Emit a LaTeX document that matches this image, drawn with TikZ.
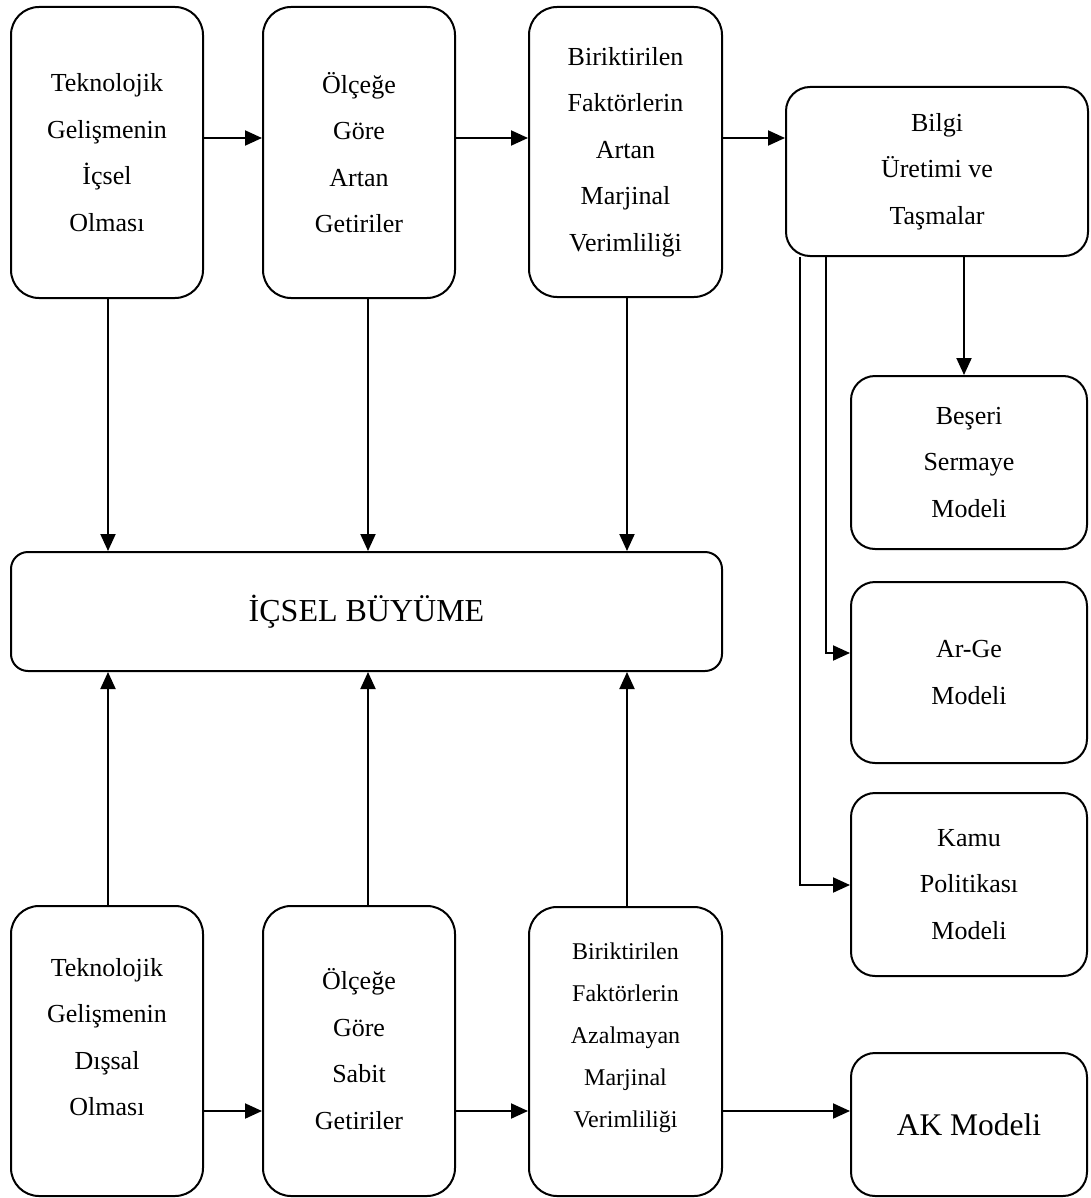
\documentclass[tikz,border=0pt]{standalone}
\usepackage{fontspec}
\setmainfont{Liberation Serif}
\usetikzlibrary{arrows.meta}
\begin{document}
\begin{tikzpicture}[x=1pt,y=-1pt,
  box/.style={draw, line width=2pt, rounded corners=28pt, inner sep=0pt, align=center},
  lbl/.style={align=center, font=\fontsize{26}{46.5}\selectfont},
  small/.style={align=center, font=\fontsize{24}{42}\selectfont},
  arr/.style={line width=2pt, -{Triangle[length=17pt,width=15pt]}}]

% page
\fill[white] (0,0) rectangle (1090,1198);

% top row: endogenous technology
\node[box, lbl, minimum width=192pt, minimum height=291pt] (a1) at (107,152.5)
  {Teknolojik\\Gelişmenin\\İçsel\\Olması};
\node[box, lbl, minimum width=192pt, minimum height=291pt] (a2) at (359,152.5)
  {Ölçeğe\\Göre\\Artan\\Getiriler};
\node[box, lbl, minimum width=193pt, minimum height=290pt] (a3) at (625.5,152)
  {Biriktirilen\\Faktörlerin\\Artan\\Marjinal\\Verimliliği};
\node[box, lbl, rounded corners=24pt, minimum width=302pt, minimum height=169pt] (bilgi) at (937,171.5)
  {Bilgi\\Üretimi ve\\Taşmalar};

% central box
\node[box, rounded corners=17pt, minimum width=711pt, minimum height=119pt,
  font=\fontsize{32}{38}\selectfont] (g) at (366.5,611.5) {İÇSEL BÜYÜME};

% right column: models
\node[box, lbl, rounded corners=24pt, minimum width=236pt, minimum height=173pt] (beseri) at (969,462.5)
  {Beşeri\\Sermaye\\Modeli};
\node[box, lbl, rounded corners=24pt, minimum width=236pt, minimum height=181pt] (arge) at (969,672.5)
  {Ar-Ge\\Modeli};
\node[box, lbl, rounded corners=24pt, minimum width=236pt, minimum height=183pt] (kamu) at (969,884.5)
  {Kamu\\Politikası\\Modeli};
\node[box, rounded corners=24pt, minimum width=236pt, minimum height=143pt,
  font=\fontsize{31.5}{38}\selectfont] (ak) at (969,1124.5) {AK Modeli};

% bottom row: exogenous technology
\node[box, minimum width=192pt, minimum height=290pt] (b1) at (107,1051) {};
\node[lbl] (b1t) at (107,1037) {Teknolojik\\Gelişmenin\\Dışsal\\Olması};
\node[box, minimum width=192pt, minimum height=290pt] (b2) at (359,1051) {};
\node[lbl] (b2t) at (359,1049) {Ölçeğe\\Göre\\Sabit\\Getiriler};
\node[box, minimum width=193pt, minimum height=289pt] (b3) at (625.5,1051.5) {};
\node[small] (b3t) at (625.5,1038) {Biriktirilen\\Faktörlerin\\Azalmayan\\Marjinal\\Verimliliği};

% guide coordinates for connector lines
\coordinate (rowA) at (0,138);
\coordinate (rowB) at (0,1111);
\coordinate (c1) at (108,0);
\coordinate (c2) at (368,0);
\coordinate (c3) at (627,0);
\coordinate (xb) at (964,0);
\coordinate (xr) at (826,0);
\coordinate (xk) at (800,0);
\coordinate (ya) at (0,653);
\coordinate (yk) at (0,885);

% top row chain
\draw[arr] (a1.east |- rowA) -- (a2.west |- rowA);
\draw[arr] (a2.east |- rowA) -- (a3.west |- rowA);
\draw[arr] (a3.east |- rowA) -- (bilgi.west |- rowA);

% into the central box
\draw[arr] (a1.south -| c1) -- (g.north -| c1);
\draw[arr] (a2.south -| c2) -- (g.north -| c2);
\draw[arr] (a3.south -| c3) -- (g.north -| c3);
\draw[arr] (b1.north -| c1) -- (g.south -| c1);
\draw[arr] (b2.north -| c2) -- (g.south -| c2);
\draw[arr] (b3.north -| c3) -- (g.south -| c3);

% bottom row chain
\draw[arr] (b1.east |- rowB) -- (b2.west |- rowB);
\draw[arr] (b2.east |- rowB) -- (b3.west |- rowB);
\draw[arr] (b3.east |- rowB) -- (ak.west |- rowB);

% knowledge spill-over branches
\draw[arr] (bilgi.south -| xb) -- (beseri.north -| xb);
\draw[arr] (bilgi.south -| xr) |- (arge.west |- ya);
\draw[arr] (bilgi.south -| xk) |- (kamu.west |- yk);
\end{tikzpicture}
\end{document}
